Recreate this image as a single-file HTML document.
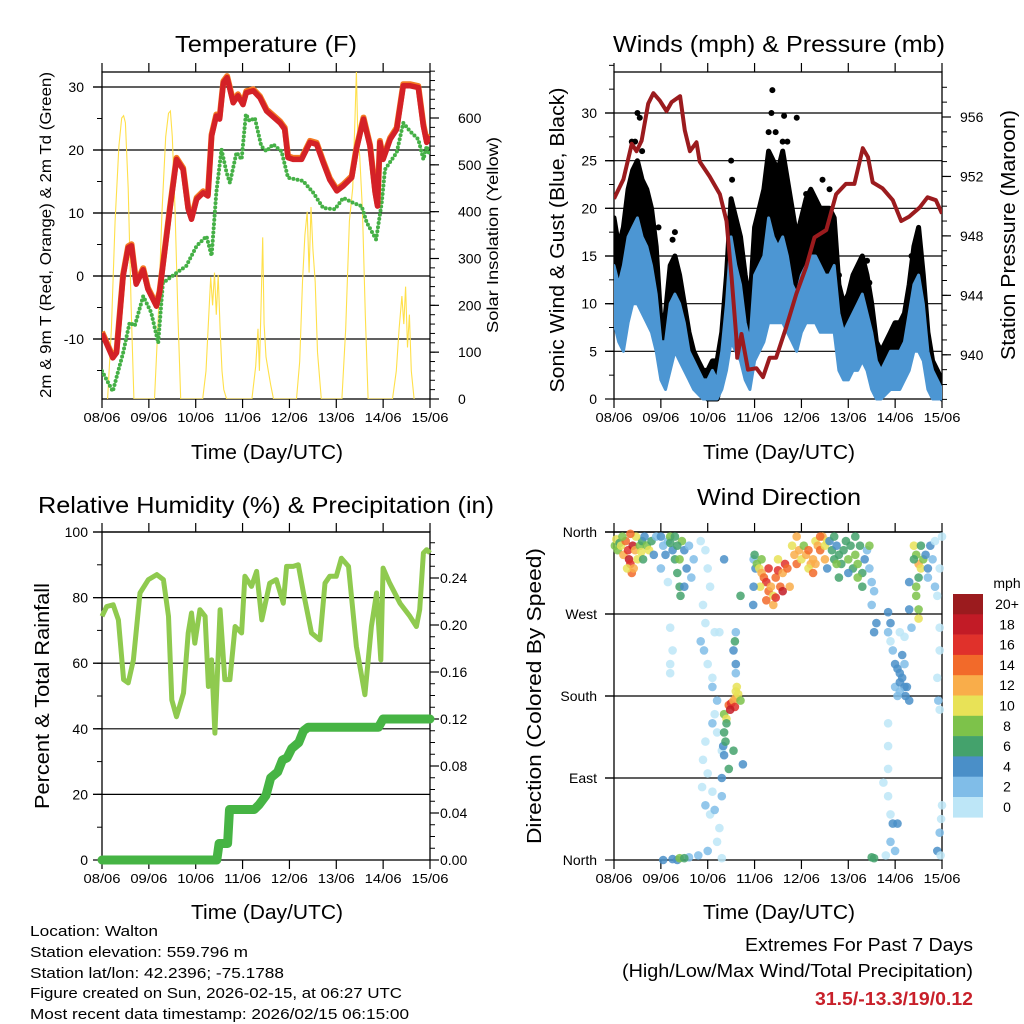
<!DOCTYPE html>
<html><head><meta charset="utf-8">
<style>
html,body{margin:0;padding:0;background:#fff;}
svg{display:block;font-family:"Liberation Sans",sans-serif;}
</style></head>
<body>
<svg id="chart" xmlns="http://www.w3.org/2000/svg" width="1024" height="1024" viewBox="0 0 1024 1024">
<rect width="1024" height="1024" fill="#fff"/>
<g id="content"></g>
<g fill="#000">
<text x="266" y="52" font-size="23" text-anchor="middle" textLength="182" lengthAdjust="spacingAndGlyphs">Temperature (F)</text>
<text x="779" y="52" font-size="23" text-anchor="middle" textLength="332" lengthAdjust="spacingAndGlyphs">Winds (mph) &amp; Pressure (mb)</text>
<text x="266" y="513" font-size="23" text-anchor="middle" textLength="456" lengthAdjust="spacingAndGlyphs">Relative Humidity (%) &amp; Precipitation (in)</text>
<text x="779" y="505" font-size="23" text-anchor="middle" textLength="164" lengthAdjust="spacingAndGlyphs">Wind Direction</text>
<text x="267" y="459" font-size="20" text-anchor="middle" textLength="152" lengthAdjust="spacingAndGlyphs">Time (Day/UTC)</text>
<text x="779" y="459" font-size="20" text-anchor="middle" textLength="152" lengthAdjust="spacingAndGlyphs">Time (Day/UTC)</text>
<text x="267" y="919" font-size="20" text-anchor="middle" textLength="152" lengthAdjust="spacingAndGlyphs">Time (Day/UTC)</text>
<text x="779" y="919" font-size="20" text-anchor="middle" textLength="152" lengthAdjust="spacingAndGlyphs">Time (Day/UTC)</text>
<text transform="translate(51,235) rotate(-90)" font-size="16" text-anchor="middle" textLength="326" lengthAdjust="spacingAndGlyphs">2m &amp; 9m T (Red, Orange) &amp; 2m Td (Green)</text>
<text transform="translate(498,235) rotate(-90)" font-size="16" text-anchor="middle" textLength="196" lengthAdjust="spacingAndGlyphs">Solar Insolation (Yellow)</text>
<text transform="translate(564,240) rotate(-90)" font-size="20" text-anchor="middle" textLength="305" lengthAdjust="spacingAndGlyphs">Sonic Wind &amp; Gust (Blue, Black)</text>
<text transform="translate(1015,235) rotate(-90)" font-size="20" text-anchor="middle" textLength="250" lengthAdjust="spacingAndGlyphs">Station Pressure (Maroon)</text>
<text transform="translate(49,696) rotate(-90)" font-size="20" text-anchor="middle" textLength="226" lengthAdjust="spacingAndGlyphs">Percent &amp; Total Rainfall</text>
<text transform="translate(541,696) rotate(-90)" font-size="20" text-anchor="middle" textLength="296" lengthAdjust="spacingAndGlyphs">Direction (Colored By Speed)</text>
</g>
<g font-size="15" fill="#000">
<text x="30" y="936" textLength="128" lengthAdjust="spacingAndGlyphs">Location: Walton</text>
<text x="30" y="957" textLength="218" lengthAdjust="spacingAndGlyphs">Station elevation: 559.796 m</text>
<text x="30" y="978" textLength="254" lengthAdjust="spacingAndGlyphs">Station lat/lon: 42.2396; -75.1788</text>
<text x="30" y="998" textLength="372" lengthAdjust="spacingAndGlyphs">Figure created on Sun, 2026-02-15, at 06:27 UTC</text>
<text x="30" y="1019" textLength="379" lengthAdjust="spacingAndGlyphs">Most recent data timestamp: 2026/02/15 06:15:00</text>
</g>
<g fill="#000" text-anchor="end">
<text x="973" y="951" font-size="18" textLength="228" lengthAdjust="spacingAndGlyphs">Extremes For Past 7 Days</text>
<text x="973" y="977" font-size="18" textLength="351" lengthAdjust="spacingAndGlyphs">(High/Low/Max Wind/Total Precipitation)</text>
<text x="973" y="1005" font-size="18" font-weight="bold" fill="#c8202a" textLength="158" lengthAdjust="spacingAndGlyphs">31.5/-13.3/19/0.12</text>
</g>
</svg>
<script>
// ---------- DATA ----------
const dayLabels = ["08/06","09/06","10/06","11/06","12/06","13/06","14/06","15/06"];
const tempT = [0,0.23,0.31,0.45,0.56,0.63,0.73,0.88,0.98,1.16,1.23,1.45,1.59,1.73,1.84,1.91,2.02,2.16,2.26,2.34,2.44,2.51,2.59,2.67,2.8,2.9,3.01,3.08,3.23,3.37,3.51,3.8,3.9,3.97,4.08,4.26,4.44,4.58,4.72,4.86,5.01,5.15,5.33,5.43,5.58,5.72,5.83,5.88,5.93,6.0,6.15,6.29,6.43,6.57,6.75,6.86,6.93,7.0];
const tempV = [-9.1,-13,-12.2,0,4.5,4.8,-1.3,1,-2.1,-4.8,-2.6,10.6,18.5,16.9,10.6,9,12.2,13.2,12.7,22.2,25.4,24.9,30.7,31.5,27.5,28.6,27.2,29.1,29.4,28.3,26.2,24.3,23.3,18.8,18.5,18.5,21.2,20.9,18,15.3,13.5,14.3,15.6,20.1,24.9,20.6,13.2,11.1,21.2,18.5,21.7,23.3,30.2,30.2,29.9,23.8,21.2,22.2];
const dewT = [0,0.23,0.45,0.59,0.7,0.88,1.05,1.2,1.3,1.59,1.8,2.02,2.23,2.34,2.44,2.55,2.66,2.73,2.87,2.98,3.07,3.15,3.26,3.4,3.51,3.65,3.83,3.97,4.29,4.51,4.72,4.97,5.15,5.36,5.54,5.65,5.85,5.97,6.04,6.29,6.43,6.57,6.75,6.86,6.93,7];
const dewV = [-15.1,-18.3,-12.2,-7.4,-7.9,-3.2,-5.8,-10.6,-1.1,0.5,1.6,4.8,6.3,3.2,13.2,20.1,16.4,14.8,19.6,18.5,25.7,24.6,25.1,20.6,19.8,20.9,19.8,15.6,15.1,13.2,10.8,10.6,12.4,11.6,11.1,8.5,5.8,11.6,16.9,19.6,24.3,23,21.7,18.5,20.6,19];
const solarT = [0.12,0.2,0.28,0.36,0.42,0.46,0.5,0.56,0.62,0.68, 1.12,1.2,1.28,1.36,1.42,1.46,1.5,1.56,1.62,1.68, 2.15,2.22,2.28,2.32,2.36,2.4,2.44,2.48,2.52,2.56,2.6,2.66, 3.2,3.28,3.33,3.36,3.4,3.43,3.46,3.5,3.55,3.6,3.66, 4.15,4.22,4.28,4.33,4.38,4.42,4.46,4.5,4.55,4.6,4.68, 5.12,5.2,5.28,5.35,5.4,5.43,5.46,5.5,5.56,5.62,5.68, 6.2,6.28,6.34,6.4,6.44,6.48,6.52,6.56,6.6,6.66];
const solarV = [0,150,380,540,600,605,590,450,200,0, 0,170,400,560,610,615,560,400,180,0, 0,60,180,260,200,270,180,265,150,60,20,0, 0,70,150,60,220,345,160,90,60,30,0, 0,80,250,350,400,270,410,320,250,100,0, 0,150,380,450,600,700,560,520,400,180,0, 0,60,150,220,160,240,110,180,60,0];
const presT = [0,0.2,0.38,0.48,0.59,0.73,0.84,0.98,1.12,1.23,1.41,1.51,1.62,1.76,1.83,2.04,2.26,2.4,2.51,2.61,2.63,2.72,2.86,3.04,3.18,3.32,3.46,3.68,3.89,4.1,4.28,4.53,4.74,4.95,5.13,5.31,5.42,5.52,5.73,5.95,6.13,6.3,6.52,6.69,6.87,7];
const presV = [950.5,951.8,954.2,953.7,954.4,956.9,957.6,957.1,956.4,957,957.4,955.1,953.7,954.3,953,952,950.8,949,945.2,941.2,939.8,941.4,939,939.1,938.5,939.8,939.8,941.9,944.1,945.9,947.9,948.4,950.8,951.5,951.5,953.9,953.3,951.6,951.2,950.4,949,949.3,949.9,950.6,950.4,949.5];
const windT = [0,0.1,0.2,0.3,0.4,0.5,0.6,0.7,0.8,0.9,1.0,1.1,1.2,1.3,1.4,1.5,1.6,1.7,1.8,1.9,2.0,2.1,2.2,2.3,2.4,2.5,2.6,2.7,2.8,2.9,3.0,3.1,3.2,3.3,3.4,3.5,3.6,3.7,3.8,3.9,4.0,4.1,4.2,4.3,4.4,4.5,4.6,4.7,4.8,4.9,5.0,5.1,5.2,5.3,5.4,5.5,5.6,5.7,5.8,5.9,6.0,6.1,6.2,6.3,6.4,6.5,6.6,6.7,6.8,6.9,7.0];
const windHi = [14,12,14,17,18,19,17,16,14,11,6,6,10,11,10,8,5,4,3,2,2,3,2,5,10,17,14,12,8,6,13,14,15,19,17,16,17,15,12,11,13,14,15,15,14,13,13,14,9,7,8,9,10,11,9,7,4,3,4,5,5,5,6,9,12,13,10,5,3,2,1];
const windLo = [8,6,5,8,10,10,9,8,7,5,2,1,3,5,4,3,2,1,0.5,0,0,0,0,1,3,6,5,4,2,1,4,5,6,8,8,8,8,7,6,5,7,8,8,8,7,7,7,7,3,2,2,3,3,4,3,1,0,0,0.5,1,1,1,2,3,5,5,4,1,0,0,0];
const gustHi = [19,16,18,22,24,25,23,22,20,16,8,9,14,15,13,10,7,5,4,3,3,4,4,7,13,21,19,17,13,10,18,20,22,26,25,24,26,23,20,17,19,21,22,21,20,20,20,19,12,10,11,13,14,15,13,10,6,5,6,7,8,8,9,12,16,18,13,7,4,3,2];
const gustLo = [11,9,9,13,14,15,13,12,10,8,4,3,6,8,7,5,3,2,1,0.5,0,0,0,2,5,9,8,7,4,2,8,9,10,12,12,12,13,11,9,8,10,11,12,12,11,11,11,10,5,4,4,6,6,7,5,3,1,1,2,3,3,3,4,6,8,9,6,3,1,0.5,0];
const gustDotT = [0.5,0.55,0.45,0.6,1.25,1.3,2.5,2.52,3.36,3.38,3.3,3.45,3.55,3.63,3.6,3.9,4.1,4.35,4.45,4.6,4.8,5.4,5.45,0.95,6.35,0.38,3.7];
const gustDotV = [30,29.5,27,26,16.7,17.5,25,23,30,32.4,28,28,21,29.7,27,29.5,21.5,20,23,22,13,14.5,12.2,18,15,27,27];
const rhT = [0,0.1,0.24,0.35,0.46,0.56,0.67,0.81,0.99,1.17,1.31,1.42,1.49,1.59,1.74,1.84,1.91,1.98,2.09,2.2,2.27,2.34,2.41,2.52,2.62,2.73,2.84,2.98,3.05,3.19,3.3,3.41,3.58,3.72,3.87,3.94,4.08,4.19,4.3,4.47,4.65,4.76,4.86,5.0,5.11,5.26,5.43,5.61,5.75,5.86,5.95,6.0,6.14,6.36,6.57,6.71,6.78,6.86,6.93,7];
const rhV = [74.3,77.3,77.8,73.2,55,54,61,81.4,85.5,87,85.5,74.3,48.8,43.7,50.9,69.2,75.3,66.1,76.3,74.3,52.9,61,38.7,76.3,55,55,71.2,69.2,86.5,83.4,88,73.2,84.4,85.5,78.3,89.5,89.5,90,81.4,69.2,67.1,84.4,86.5,86.5,92,89.5,65.1,50.4,71.2,81.4,61,89,84.4,78.3,74.3,71.2,76.3,93.6,94.6,93.6];
const precipT = [0,2.45,2.5,2.68,2.72,3.25,3.35,3.5,3.6,3.75,3.85,3.95,4.05,4.2,4.3,4.4,5.9,6.0,7];
const precipV = [0,0,0.014,0.014,0.043,0.043,0.047,0.055,0.07,0.075,0.085,0.087,0.095,0.1,0.11,0.113,0.113,0.12,0.12];
const dirT = [0.02,0.05,0.08,0.12,0.15,0.2,0.25,0.3,0.32,0.35,0.38,0.4,0.45,0.5,0.55,0.6,0.65,0.7,0.75,0.8,0.85,0.9,0.28,0.42,0.47,0.58,0.62,0.18,0.35,
1.0,1.05,1.1,1.15,1.2,1.25,1.3,1.35,1.4,1.45,1.5,1.55,1.6,1.65,1.7,1.0,1.15,1.3,1.4,1.42,1.5,1.2,1.35,
1.2,1.25,1.2,1.2,1.85,1.95,2.0,2.05,1.9,1.95,1.85,1.92,2.0,2.1,2.1,2.2,2.15,2.1,2.2,1.9,1.95,2.0,1.88,1.95,2.05,2.15,2.1,2.3,2.25,2.2,2.0,1.8,1.6,1.35,1.25,1.4,1.5,1.05,2.3,2.3,2.15,2.25,
2.35,2.4,2.45,2.5,2.55,2.6,2.65,2.58,2.48,2.4,2.35,2.33,2.35,2.38,2.6,2.62,2.55,2.6,2.58,2.6,2.6,2.55,2.7,2.3,2.45,2.75,2.35,2.7,
2.98,3.02,3.05,3.1,3.15,3.2,3.25,3.3,3.35,3.4,3.45,3.5,3.55,3.6,3.65,3.7,3.75,3.3,3.5,3.12,3.4,3.25,2.98,2.97,3.6,3.45,3.0,3.15,
3.8,3.85,3.9,3.95,4.0,4.05,4.1,4.15,4.2,4.25,4.3,4.35,4.4,4.45,4.5,4.5,4.15,4.3,4.4,3.9,4.55,4.25,
4.6,4.65,4.7,4.75,4.8,4.85,4.9,5.0,5.05,5.1,5.15,5.2,5.25,5.3,5.35,5.4,5.45,5.5,5.55,5.5,5.6,5.55,4.7,4.95,5.15,4.55,4.8,5.3,5.0,4.75,5.45,5.2,
5.85,5.9,5.85,5.9,5.95,6.0,6.05,6.1,6.15,6.2,6.1,6.0,6.2,6.25,6.15,6.22,6.3,6.1,6.05,6.2,5.85,5.85,5.85,5.75,5.85,5.9,5.95,5.9,5.8,5.55,5.5,6.05,6.0,6.1,
6.4,6.45,6.5,6.55,6.6,6.5,6.45,6.45,6.5,6.5,6.55,6.65,6.7,6.75,6.7,6.8,6.85,6.9,6.95,6.95,6.9,6.92,6.95,7.0,6.98,6.95,6.9,6.97,6.85,6.95,7.0,6.3,6.3,6.35,6.4];
const dirV = [345,352,340,348,345,335,350,340,330,325,315,345,340,330,345,350,355,345,340,350,335,355,320,320,355,338,330,355,358,
355,345,335,350,355,340,330,315,300,350,340,320,345,310,330,320,305,355,330,290,300,348,345,
255,230,215,205,350,340,320,300,280,260,240,230,215,200,190,175,160,150,140,110,130,95,80,60,50,55,75,70,35,20,10,5,3,0,1,2,2,0,2,120,250,250,
160,155,170,172,175,178,182,168,165,150,140,125,115,130,185,190,230,215,240,250,205,120,175,90,100,105,330,290,
330,320,325,320,315,310,305,295,300,290,310,318,300,315,325,320,300,320,330,300,280,285,300,280,295,288,335,330,
345,335,325,340,330,345,335,340,325,330,350,345,340,355,345,330,320,325,355,355,350,315,
350,340,330,345,335,325,340,330,345,320,335,325,345,315,330,340,320,305,295,280,260,250,355,350,355,320,310,300,315,325,345,310,
272,260,250,240,230,215,210,205,200,190,185,190,215,190,225,180,175,195,180,245,150,125,100,85,70,50,40,20,5,2,3,40,10,250,
345,335,325,320,330,310,300,290,275,265,345,335,320,345,310,330,350,290,255,230,200,175,165,60,45,30,10,5,300,320,355,305,275,255,330];
const dirS = [8,10,8,6,10,12,14,16,18,16,14,18,12,10,8,6,4,8,10,6,4,2,10,12,10,10,6,8,14,
4,2,4,2,8,4,6,6,6,8,4,4,2,2,2,2,0,6,8,6,4,6,6,
0,0,0,0,0,0,0,0,0,0,2,2,0,0,2,2,0,2,0,0,0,0,0,2,0,2,0,2,0,0,2,2,2,4,4,8,6,4,0,0,0,0,
8,10,14,16,12,12,10,16,18,6,6,4,4,6,10,10,4,4,6,2,2,6,8,4,6,4,4,6,
2,4,8,10,12,14,16,14,12,10,14,16,14,12,16,14,12,16,10,10,12,14,4,4,18,16,6,8,
10,12,14,12,10,8,12,14,12,12,10,12,14,12,10,12,10,12,14,12,10,14,
4,6,6,4,6,6,6,8,6,6,8,8,6,6,4,2,2,2,2,2,4,4,6,6,6,4,6,6,4,8,8,8,
4,4,2,0,2,4,4,4,4,4,2,2,2,4,4,4,4,4,2,0,0,0,0,0,0,0,4,2,0,6,6,4,2,0,
10,8,12,10,8,6,8,8,8,10,6,4,4,4,2,2,0,0,0,0,0,2,0,0,0,2,4,0,2,0,0,4,4,2,6];
const speedBins = ["0","2","4","6","8","10","12","14","16","18","20+"];
const speedColors = ["#bde6f7","#80bde8","#4a8fc8","#44a26c","#7dc24a","#e8e257","#f9ad4a","#f26a2a","#e0312b","#c21b26","#9b1b1e"];
const tempTicks = [-10,0,10,20,30];
const solarTicks = [0,100,200,300,400,500,600];
const windTicks = [0,5,10,15,20,25,30];
const presTicks = [940,944,948,952,956];
const rhTicks = [0,20,40,60,80,100];
const precipTicks = [0,0.04,0.08,0.12,0.16,0.20,0.24];
const dirTicks = [0,90,180,270,360];
const dirLabels = ["North","East","South","West","North"];

// ---------- HELPERS ----------
const NS = "http://www.w3.org/2000/svg";
const root = document.getElementById("content");
function mk(tag, attrs, parent){
  const e = document.createElementNS(NS, tag);
  for (const k in attrs) e.setAttribute(k, attrs[k]);
  (parent||root).appendChild(e);
  return e;
}
function lin(d0,d1,r0,r1){ return v => r0 + (v-d0)*(r1-r0)/(d1-d0); }
function pathFrom(xs, ys, sx, sy){
  return xs.map((t,i)=>(i?"L":"M")+sx(t).toFixed(1)+","+sy(ys[i]).toFixed(1)).join("");
}

function frame(name, X0, X1, Y0, Y1, sx, leftTicks, leftFmt, sy, leftMinor, rightTicks, rightFmt, syR, rightMinor, rightLabelX, leftLabelX){
  const g = mk("g", {});
  
  
  leftTicks.forEach(v=>{
    const y = sy(v);
    if (Math.abs(y-Y1)<1) return;
    const l = mk("line",{x1:X0-9,x2:X1,y1:y,y2:y,stroke:"#000","stroke-width":1.2},g);
    
    
  });
  const r = mk("rect",{x:X0,y:Y0,width:X1-X0,height:Y1-Y0,fill:"none",stroke:"#000","stroke-width":1.3},g);
  
  
  dayLabels.forEach((lab,i)=>{
    const x = sx(i);
    mk("line",{x1:x,x2:x,y1:Y1,y2:Y1+9,stroke:"#000","stroke-width":1.2},g);
    mk("line",{x1:x,x2:x,y1:Y0,y2:Y0-9,stroke:"#000","stroke-width":1.2},g);
    const t = mk("text",{x:x,y:Y1+23,"font-size":13,"text-anchor":"middle",textLength:37,lengthAdjust:"spacingAndGlyphs"},g);
    
    
    t.textContent = lab;
  });
  leftMinor.forEach(v=>{ const y=sy(v); mk("line",{x1:X0-5,x2:X0,y1:y,y2:y,stroke:"#000","stroke-width":1},g); });
  leftTicks.forEach((v,i)=>{
    const y=sy(v);
    mk("line",{x1:X0-9,x2:X0,y1:y,y2:y,stroke:"#000","stroke-width":1.2},g);
    const t = mk("text",{x:leftLabelX,y:y+5,"font-size":14,"text-anchor":"end"},g);
    
    
    t.textContent = leftFmt(v,i);
  });
  if (rightTicks){
    rightMinor.forEach(v=>{ const y=syR(v); if(y>=Y0-1&&y<=Y1+1) mk("line",{x1:X1,x2:X1+5,y1:y,y2:y,stroke:"#000","stroke-width":1},g); });
    rightTicks.forEach(v=>{
      const y=syR(v);
      mk("line",{x1:X1,x2:X1+9,y1:y,y2:y,stroke:"#000","stroke-width":1.2},g);
      const t = mk("text",{x:rightLabelX,y:y+5,"font-size":14,"text-anchor":"start"},g);
      
      
      t.textContent = rightFmt(v);
    });
  }
}
function range(a,b,s){ const o=[]; for(let v=a; v<=b+1e-9; v+=s) o.push(+v.toFixed(4)); return o; }

// ---------- PANEL 1: TEMPERATURE ----------
(function(){
  const X0=102,X1=430,Y0=72,Y1=399;
  const sx = lin(0,7,X0,X1);
  const sy = lin(0,30,276,87);
  const sS = lin(0,600,399,118);
  const clip = mk("clipPath",{id:"c1"}); mk("rect",{x:X0,y:Y0,width:X1-X0,height:Y1-Y0},clip);
  frame("temp",X0,X1,Y0,Y1,sx,tempTicks,v=>String(v),sy,range(-15,30,5),solarTicks,v=>String(v),sS,range(0,700,20),458,84);
  const g = mk("g",{"clip-path":"url(#c1)"});
  const sol = mk("path",{d:pathFrom(solarT,solarV,sx,sS),fill:"none",stroke:"#ffe04a","stroke-width":1.1},g);
  
  
  const dew = mk("path",{d:pathFrom(dewT,dewV,sx,sy),fill:"none",stroke:"#45b046","stroke-width":4,"stroke-dasharray":"0 4.2","stroke-linecap":"round","stroke-linejoin":"round"},g);
  
  
  const t9 = mk("path",{d:pathFrom(tempT,tempV,sx,sy),fill:"none",stroke:"#f47a22","stroke-width":6,"stroke-linejoin":"round",transform:"translate(0,-1.5)"},g);
  
  
  const t2 = mk("path",{d:pathFrom(tempT,tempV,sx,sy),fill:"none",stroke:"#d42127","stroke-width":5.5,"stroke-linejoin":"round"},g);
  
  
})();

// ---------- PANEL 2: WINDS ----------
(function(){
  const X0=614,X1=942,Y0=72,Y1=399;
  const sx = lin(0,7,X0,X1);
  const sy = lin(0,30,399,113);
  const sP = lin(940,956,354.8,117);
  const clip = mk("clipPath",{id:"c2"}); mk("rect",{x:X0,y:Y0,width:X1-X0,height:Y1-Y0+4},clip);
  frame("wind",X0,X1,Y0,Y1,sx,windTicks,v=>String(v),sy,range(2.5,35,2.5),presTicks,v=>String(v),sP,range(937,958,1),960,597);
  const g = mk("g",{"clip-path":"url(#c2)"});
  const gp = "M"+windT.map((t,i)=>sx(t).toFixed(1)+","+sy(gustHi[i]).toFixed(1)).join("L")+"L"+windT.slice().reverse().map((t,i)=>{const j=windT.length-1-i;return sx(t).toFixed(1)+","+sy(gustLo[j]).toFixed(1);}).join("L")+"Z";
  const gust = mk("path",{d:gp,fill:"#000",stroke:"#000","stroke-width":5,"stroke-linejoin":"round"},g);
  
  
  gustDotT.forEach((t,i)=>{
    const c = mk("circle",{cx:sx(t),cy:sy(gustDotV[i]),r:3,fill:"#000"},g);
    
    
  });
  const bp = "M"+windT.map((t,i)=>sx(t).toFixed(1)+","+sy(windHi[i]).toFixed(1)).join("L")+"L"+windT.slice().reverse().map((t,i)=>{const j=windT.length-1-i;return sx(t).toFixed(1)+","+sy(windLo[j]).toFixed(1);}).join("L")+"Z";
  const blue = mk("path",{d:bp,fill:"#4c96d3",stroke:"#4c96d3","stroke-width":3,"stroke-linejoin":"round"},g);
  
  
  const pr = mk("path",{d:pathFrom(presT,presV,sx,sP),fill:"none",stroke:"#9b1b1e","stroke-width":4,"stroke-linejoin":"round"},g);
  
  
})();

// ---------- PANEL 3: RH & PRECIP ----------
(function(){
  const X0=102,X1=430,Y0=532,Y1=860;
  const sx = lin(0,7,X0,X1);
  const sy = lin(0,100,860,532);
  const sP = lin(0,0.12,860,719);
  frame("rh",X0,X1,Y0,Y1,sx,rhTicks,v=>String(v),sy,range(10,100,10),precipTicks,v=>v.toFixed(2),sP,range(0,0.27,0.01),440,88);
  const rh = mk("path",{d:pathFrom(rhT,rhV,sx,sy),fill:"none",stroke:"#8fca4f","stroke-width":5,"stroke-linejoin":"round"});
  
  
  const pc = mk("path",{d:pathFrom(precipT,precipV,sx,sP),fill:"none",stroke:"#46b444","stroke-width":9,"stroke-linejoin":"round","stroke-linecap":"round"});
  
  
})();

// ---------- PANEL 4: WIND DIRECTION ----------
(function(){
  const X0=614,X1=942,Y0=532,Y1=860;
  const sx = lin(0,7,X0,X1);
  const sy = lin(0,360,860,532);
  frame("dir",X0,X1,Y0,Y1,sx,dirTicks,(v,i)=>dirLabels[i],sy,[],null,null,null,null,0,597);
  mk("line",{x1:X0-9,x2:X1,y1:Y0,y2:Y0,stroke:"#000","stroke-width":1.3});
  const g = mk("g",{});
  
  
  dirT.forEach((t,i)=>{
    const bin = Math.min(10, Math.round(dirS[i]/2));
    const c = mk("circle",{cx:sx(t).toFixed(1),cy:sy(dirV[i]).toFixed(1),r:4.3,fill:speedColors[bin],opacity:0.85},g);
    
    
  });
  const lg = mk("g",{});
  
  
  const u = mk("text",{x:1007,y:588,"font-size":14,"text-anchor":"middle"},lg);
  
  
  u.textContent = "mph";
  const bh = 20.3;
  for (let k=10;k>=0;k--){
    const y = 594 + (10-k)*bh;
    const r = mk("rect",{x:953,y:y,width:30,height:bh+0.3,fill:speedColors[k]},lg);
    
    
    const t = mk("text",{x:1007,y:y+15,"font-size":14,"text-anchor":"middle"},lg);
    
    
    t.textContent = speedBins[k];
  }
})();
</script>
</body></html>
